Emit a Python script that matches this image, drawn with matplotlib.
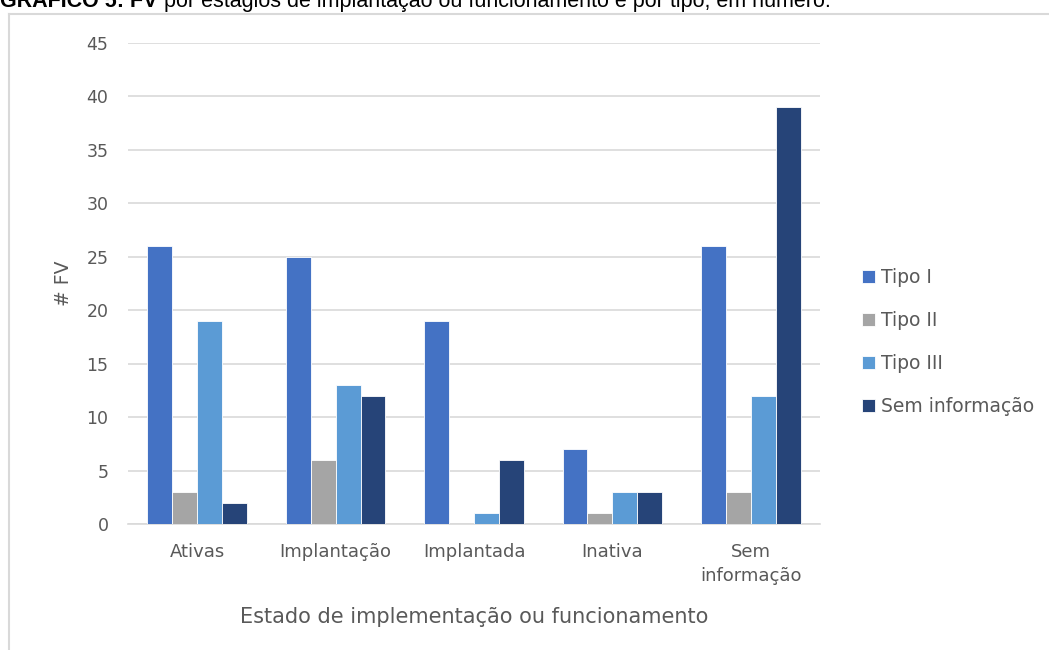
import matplotlib
matplotlib.use("Agg")
import matplotlib.pyplot as plt
import numpy as np
from matplotlib.lines import Line2D
from matplotlib.transforms import offset_copy

categories = ["Ativas", "Implantação", "Implantada", "Inativa", "Sem\ninformação"]
series_names = ["Tipo I", "Tipo II", "Tipo III", "Sem informação"]
tipo_i = [26, 25, 19, 7, 26]
tipo_ii = [3, 6, 0, 1, 3]
tipo_iii = [19, 13, 1, 3, 12]
sem_info = [2, 12, 6, 3, 39]
series_values = [tipo_i, tipo_ii, tipo_iii, sem_info]
colors = ["#4472C4", "#A5A5A5", "#5B9BD5", "#264478"]
y_ticks = [0, 5, 10, 15, 20, 25, 30, 35, 40, 45]

plt.rcParams["font.family"] = ["DejaVu Sans"]
TEXT = "#595959"

fig = plt.figure(figsize=(10.49, 6.5), dpi=100)
ax = fig.add_axes([128 / 1049, 1 - 524 / 650, (820 - 128) / 1049, (524 - 43) / 650])

x = np.arange(len(categories))
width = 0.18
offsets = (np.arange(len(series_names)) - 1.5) * width
for name, vals, off, col in zip(series_names, series_values, offsets, colors):
    ax.bar(x + off, vals, width, color=col, label=name, edgecolor="white",
           linewidth=0.6, zorder=3)

ax.set_xlim(-0.5, len(categories) - 0.5)
ax.set_ylim(0, 45)
ax.set_yticks(y_ticks)
ax.set_xticks(x)
ax.set_xticklabels(categories, fontsize=13, color=TEXT, linespacing=1.4)
ax.tick_params(axis="y", labelsize=12.5, labelcolor=TEXT, length=0, pad=14)
ax.tick_params(axis="x", length=0, pad=14)
ax.grid(axis="y", color="#D9D9D9", linewidth=1.2, zorder=0)
for side in ["top", "right", "left"]:
    ax.spines[side].set_visible(False)
ax.spines["bottom"].set_color("#D9D9D9")
ax.spines["bottom"].set_linewidth(1.2)

ax.set_ylabel("# FV", fontsize=13.5, color=TEXT, labelpad=10)
ax.set_xlabel("Estado de implementação ou funcionamento", fontsize=15,
              color=TEXT, labelpad=16)

fig.legend(loc="upper left", bbox_to_anchor=(845 / 1049, 1 - 251 / 650),
           frameon=False, fontsize=13.5, handlelength=0.72, handleheight=0.72,
           handletextpad=0.3, labelspacing=1.28, labelcolor=TEXT)

# chart frame
fig.add_artist(Line2D([9 / 1049, 9 / 1049], [0, 1 - 14 / 650], transform=fig.transFigure,
                      color="#D9D9D9", linewidth=1.5))
fig.add_artist(Line2D([9 / 1049, 1], [1 - 14 / 650, 1 - 14 / 650], transform=fig.transFigure,
                      color="#D9D9D9", linewidth=1.5))

# caption above the chart: bold prefix followed by regular text
renderer = fig.canvas.get_renderer()
t1 = fig.text(0.0, 1 - 7 / 650, "GRÁFICO 5: FV ", fontsize=15.5, family="Liberation Sans",
              weight="bold", va="baseline", ha="left", color="black")
w = t1.get_window_extent(renderer).width
fig.text(0.0, 1 - 7 / 650, "por estágios de implantação ou funcionamento e por tipo, em número.",
         fontsize=15.5, family="Liberation Sans", va="baseline", ha="left", color="black",
         transform=offset_copy(fig.transFigure, fig=fig, x=w, y=0, units="dots"))

fig.savefig("out.png", dpi=100)
